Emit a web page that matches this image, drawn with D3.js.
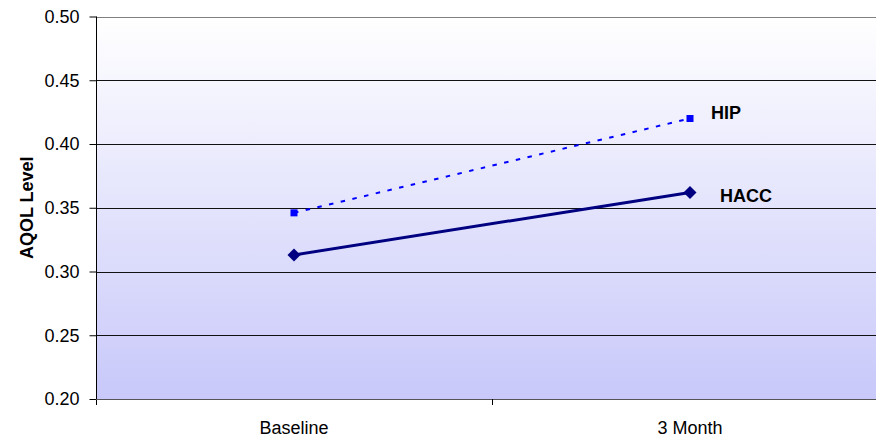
<!DOCTYPE html>
<html><head><meta charset="utf-8">
<script src="https://cdn.jsdelivr.net/npm/d3@7"></script>
<style>body{margin:0;background:#fff}svg{display:block}text{font-family:Arial,"Liberation Sans",sans-serif}</style>
</head><body>
<svg id="c" width="876" height="440"></svg>
<script>
const categories = ["Baseline", "3 Month"];
const hipValues = [0.346, 0.420];
const haccValues = [0.313, 0.362];
const yTicks = [0.20, 0.25, 0.30, 0.35, 0.40, 0.45, 0.50];
const seriesNames = ["HIP", "HACC"];

const svg = d3.select("#c");
const L = 96, T = 16.5, R = 888, B = 399;
const x = d3.scaleBand().domain(categories).range([L, R]);
const y = d3.scaleLinear().domain([0.20, 0.50]).range([B, T]);

const defs = svg.append("defs");
const g = defs.append("linearGradient").attr("id","bg").attr("x1",0).attr("y1",0).attr("x2",0).attr("y2",1);
g.append("stop").attr("offset","0%").attr("stop-color","#ffffff");
g.append("stop").attr("offset","100%").attr("stop-color","#c8c8fa");
svg.append("rect").attr("x",L).attr("y",T).attr("width",R-L).attr("height",B-T).attr("fill","url(#bg)");

// gridlines
svg.append("g").selectAll("line").data(yTicks.slice(1)).join("line")
  .attr("x1",L).attr("x2",R).attr("y1",d=>Math.round(y(d))+0.5).attr("y2",d=>Math.round(y(d))+0.5)
  .attr("stroke",d=>d===0.50?"#808080":"#111").attr("stroke-width",1);

// y axis
const ya = svg.append("g").attr("transform",`translate(${L+0.5},0)`)
  .call(d3.axisLeft(y).tickValues(yTicks).tickFormat(d3.format(".2f")).tickSize(7).tickPadding(10));
ya.select(".domain").attr("stroke","#000").attr("d",`M0,${T}V${B+6}`);
ya.selectAll(".tick line").attr("stroke","#000");
ya.selectAll("text").attr("font-size",18).attr("fill","#000");

// x axis
const xa = svg.append("g").attr("transform",`translate(0,${B+0.5})`)
  .call(d3.axisBottom(x).tickSize(0).tickPadding(22));
xa.select(".domain").attr("stroke","#555").attr("d",`M${L},0H${R}`);
xa.selectAll("text").attr("font-size",18).attr("fill","#000");
svg.append("line").attr("x1",x.step()+L+0.5).attr("x2",x.step()+L+0.5).attr("y1",B).attr("y2",B+6).attr("stroke","#000");

// y label
svg.append("text").attr("transform",`translate(33,${(T+B)/2}) rotate(-90)`).attr("text-anchor","middle")
  .attr("font-size",18).attr("font-weight","bold").text("AQOL Level");

const cx = d => x(d) + x.bandwidth()/2;
const line = d3.line().x(d=>cx(d[0])).y(d=>y(d[1]));

// HACC
const hacc = categories.map((c,i)=>[c,haccValues[i]]);
svg.append("path").attr("d",line(hacc)).attr("fill","none").attr("stroke","#000080").attr("stroke-width",3);
svg.append("g").selectAll("path").data(hacc).join("path")
  .attr("transform",d=>`translate(${cx(d[0])},${y(d[1])})`)
  .attr("d","M0,-6.5L6.5,0L0,6.5L-6.5,0Z").attr("fill","#000080");

// HIP
const hip = categories.map((c,i)=>[c,hipValues[i]]);
svg.append("path").attr("d",line(hip)).attr("fill","none").attr("stroke","#0000ff").attr("stroke-width",2).attr("stroke-dasharray","4.5,7.5");
svg.append("g").selectAll("rect").data(hip).join("rect")
  .attr("x",d=>cx(d[0])-3.5).attr("y",d=>y(d[1])-3.5).attr("width",7).attr("height",7).attr("fill","#0000ff");

// labels
svg.append("text").attr("x",711).attr("y",119.3).attr("font-size",18).attr("font-weight","bold").text(seriesNames[0]);
svg.append("text").attr("x",720).attr("y",201.7).attr("font-size",18).attr("font-weight","bold").text(seriesNames[1]);
</script>
</body></html>
